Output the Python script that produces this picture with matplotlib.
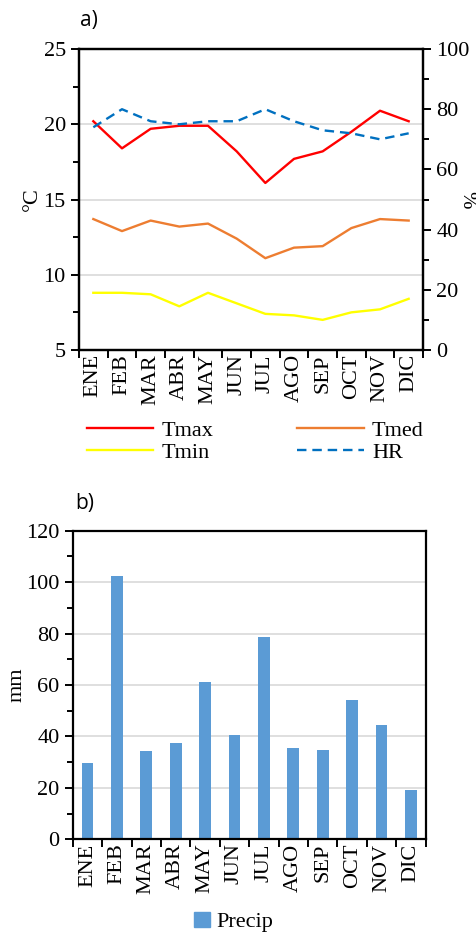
import numpy as np
import matplotlib.pyplot as plt
from matplotlib.ticker import MultipleLocator, FormatStrFormatter
from matplotlib.patches import Patch
from matplotlib.lines import Line2D

serif = ['Liberation Serif', 'DejaVu Serif']
plt.rcParams['font.family'] = serif

meses = ["ENE", "FEB", "MAR", "ABR", "MAY", "JUN", "JUL", "AGO", "SEP", "OCT", "NOV", "DIC"]
tmax = [20.2, 18.4, 19.7, 19.9, 19.9, 18.2, 16.1, 17.7, 18.2, 19.5, 20.9, 20.2]
tmed = [13.7, 12.9, 13.6, 13.2, 13.4, 12.4, 11.1, 11.8, 11.9, 13.1, 13.7, 13.6]
tmin = [8.8, 8.8, 8.7, 7.9, 8.8, 8.1, 7.4, 7.3, 7.0, 7.5, 7.7, 8.4]
hr = [74, 80, 76, 75, 76, 76, 80, 76, 73, 72, 70, 72]
precip = [29.7, 102.2, 34.5, 37.3, 61.2, 40.7, 78.7, 35.6, 34.7, 54.2, 44.6, 19.3]

x = np.arange(len(meses))
fs = 16

fig = plt.figure(figsize=(4.77, 9.34), dpi=100)

def style_box(ax):
    for s in ax.spines.values():
        s.set_linewidth(1.6)
        s.set_color("black")

def value_axis(ax, step, minor):
    ax.yaxis.set_major_locator(MultipleLocator(step))
    ax.yaxis.set_minor_locator(MultipleLocator(minor))
    ax.yaxis.set_major_formatter(FormatStrFormatter("%d"))
    ax.tick_params(axis="y", which="major", length=6, width=1.4, labelsize=fs)
    ax.tick_params(axis="y", which="minor", length=4, width=1.4)

def month_axis(ax):
    # ticks on the category borders, month names centred between them
    ax.set_xlim(-0.5, 11.5)
    ax.set_xticks(np.arange(-0.5, 12, 1))
    ax.set_xticklabels([])
    ax.set_xticks(x, minor=True)
    ax.set_xticklabels(meses, minor=True, rotation=90, fontsize=fs)
    ax.tick_params(axis="x", which="minor", length=0, pad=3)
    ax.tick_params(axis="x", which="major", length=6, width=1.4, direction="out")

# ---- a) temperatures + relative humidity
ax1 = fig.add_axes([0.1656, 0.6253, 0.7212, 0.3222])
ax1.plot(x, tmax, color="#FF0000", lw=1.7)
ax1.plot(x, tmed, color="#ED7D31", lw=1.7)
ax1.plot(x, tmin, color="#FFFF00", lw=1.7)
ax1.set_ylim(5, 25)
value_axis(ax1, 5, 2.5)
ax1.grid(axis="y", color="#D9D9D9", lw=1.2)
ax1.set_axisbelow(True)
month_axis(ax1)
ax1.set_ylabel("°C", fontsize=fs, labelpad=1)
style_box(ax1)

ax2 = ax1.twinx()
ax2.plot(x, hr, color="#0070C0", lw=1.7, ls=(0, (4, 2.5)))
ax2.set_ylim(0, 100)
value_axis(ax2, 20, 10)
style_box(ax2)
# right-hand axis title, kept inside the figure edge
fig.text(0.978, 0.786, "%", fontsize=15, rotation=270, ha="center", va="center")

handles = [Line2D([], [], color="#FF0000", lw=1.7),
           Line2D([], [], color="#FFFF00", lw=1.7),
           Line2D([], [], color="#ED7D31", lw=1.7),
           Line2D([], [], color="#0070C0", lw=1.7, ls=(0, (4, 2.5)))]
fig.legend(handles, ["Tmax", "Tmin", "Tmed", "HR"], ncol=2, frameon=False,
           fontsize=fs, loc="center", bbox_to_anchor=(0.535, 0.527),
           handlelength=3.0, columnspacing=3.8, labelspacing=0.05, handletextpad=0.35)

fig.text(0.168, 0.978, "a)", fontsize=15, family="Open Sans", va="center")

# ---- b) precipitation
ax3 = fig.add_axes([0.1524, 0.1014, 0.7401, 0.3304])
ax3.bar(x, precip, width=0.4, color="#5B9BD5", zorder=2)
ax3.set_ylim(0, 120)
value_axis(ax3, 20, 10)
ax3.grid(axis="y", color="#D9D9D9", lw=1.2)
ax3.set_axisbelow(True)
month_axis(ax3)
ax3.set_ylabel("mm", fontsize=fs, labelpad=0)
style_box(ax3)

fig.legend([Patch(color="#5B9BD5")], ["Precip"], frameon=False, fontsize=fs,
           loc="center", bbox_to_anchor=(0.49, 0.013), handlelength=0.7,
           handleheight=0.7, handletextpad=0.3)

fig.text(0.157, 0.461, "b)", fontsize=15, family="Open Sans", va="center")

fig.savefig("out.png", dpi=100)
